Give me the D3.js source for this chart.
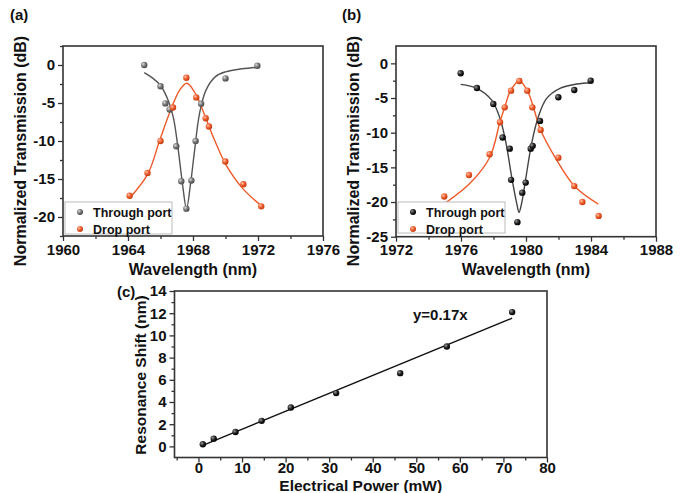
<!DOCTYPE html>
<meta charset="utf-8">
<html lang="en-us">
<head>
  <script src="https://cdn.jsdelivr.net/npm/d3@7"></script>
  <style>
    body { margin: 0; background: #fff; }
    svg text { font-family: "Liberation Sans", Arial, sans-serif; font-weight: bold; fill: #111; }
  </style>
</head>
<body>
<svg id="chart" width="689" height="493"></svg>
<script>
  // (a) measured points [wavelength nm, dB]
  const throughA = [[1965.0,0],[1966.0,-2.8],[1966.3,-5.05],[1966.56,-5.85],[1966.97,-10.7],[1967.28,-15.3],
    [1967.59,-18.9],[1967.9,-15.2],[1968.16,-10.0],[1968.5,-5.1],[1970.0,-1.76],[1971.96,-0.1]];
  const dropA = [[1964.1,-17.2],[1965.2,-14.2],[1966.0,-10.0],[1966.77,-5.6],[1967.59,-1.67],[1968.2,-4.26],
    [1968.78,-7.0],[1968.98,-8.1],[1969.99,-12.7],[1971.1,-15.7],[1972.2,-18.6]];
  // (a) fit curves
  const throughFitA = [[1965,-1.0],[1965.5,-1.7],[1966,-2.7],[1966.5,-4.8],[1966.8,-7],[1967.1,-11.3],
    [1967.35,-15.6],[1967.6,-18.9],[1967.85,-15.6],[1968.1,-11.2],[1968.4,-6.4],[1968.8,-3.3],
    [1969.4,-1.5],[1970,-0.9],[1971,-0.5],[1972,-0.3]];
  const dropFitA = [[1964.15,-17.4],[1965.23,-14.3],[1965.95,-9.9],[1966.67,-5.7],[1967.18,-3.3],[1967.63,-2.4],
    [1968.2,-3.96],[1968.72,-6.6],[1969.33,-9.9],[1970.05,-13.2],[1971.08,-16.3],[1972.25,-18.6]];

  // (b) measured points
  const throughB = [[1975.98,-1.44],[1976.98,-3.56],[1977.99,-5.87],[1978.56,-10.7],[1979.0,-12.3],[1979.08,-16.8],
    [1979.47,-22.9],[1979.77,-18.65],[1979.98,-17.2],[1980.29,-12.3],[1980.41,-11.9],[1980.86,-8.3],
    [1981.99,-4.9],[1982.97,-3.85],[1983.98,-2.5]];
  const dropB = [[1974.97,-19.2],[1976.49,-16.1],[1977.76,-13.1],[1978.4,-8.5],[1978.69,-6.35],[1979.08,-3.94],
    [1979.59,-2.55],[1980.08,-3.94],[1980.39,-6.35],[1980.9,-9.6],[1981.99,-13.6],[1982.97,-17.7],
    [1983.47,-20.0],[1984.47,-22.0]];
  const throughFitB = [[1975.98,-3.03],[1976.97,-3.6],[1977.89,-5.3],[1978.4,-7.94],[1978.77,-11.5],[1979.12,-16.4],
    [1979.43,-20.2],[1979.57,-21.5],[1979.73,-20.2],[1980.0,-16.4],[1980.35,-11.5],[1980.76,-7.7],
    [1981.27,-5.05],[1982.09,-3.6],[1983.12,-2.98],[1984.04,-2.79]];
  const dropFitB = [[1974.7,-20.7],[1976.55,-17.3],[1977.78,-13.5],[1978.4,-8.4],[1978.7,-6.25],[1979.05,-3.94],
    [1979.59,-2.55],[1980.08,-3.94],[1980.45,-6.25],[1980.86,-9.4],[1981.89,-13.95],[1983.02,-17.8],[1984.45,-20.3]];

  // (c) resonance shift vs power
  const powerMW = [1, 3.5, 8.5, 14.5, 21.2, 31.6, 46.3, 57, 72];
  const shiftNm = [0.2, 0.7, 1.3, 2.3, 3.5, 4.8, 6.6, 9.0, 12.1];
  const fitLineC = [[1, 0.1], [72, 11.55]];

  const legendLabels = ['Through port', 'Drop port'];
  const red = '#ef5a2a';

  const svg = d3.select('#chart');
  const defs = svg.append('defs');
  function ball(id, hi, mid, lo) {
    const g = defs.append('radialGradient').attr('id', id).attr('cx', '35%').attr('cy', '35%').attr('r', '65%');
    g.append('stop').attr('offset', '0%').attr('stop-color', hi);
    g.append('stop').attr('offset', '55%').attr('stop-color', mid);
    g.append('stop').attr('offset', '100%').attr('stop-color', lo);
  }
  ball('gGray', '#d8d8d8', '#777', '#4a4a4a');
  ball('gBlack', '#9a9a9a', '#222', '#000');
  ball('gRed', '#ffc2a8', red, '#c33e12');

  function panel(o) {
    const x = d3.scaleLinear().domain(o.xDom).range([o.left, o.right]);
    const y = d3.scaleLinear().domain(o.yDom).range([o.bottom, o.top]);
    const g = svg.append('g');

    const fmt = d => String(d);
    g.append('g').attr('transform', `translate(0,${o.bottom})`)
      .call(d3.axisBottom(x).tickValues(o.xTicks).tickSize(5).tickSizeOuter(0)
        .tickPadding(o.xPad != null ? o.xPad : 3).tickFormat(fmt));
    g.append('g').attr('transform', `translate(0,${o.bottom})`)
      .call(d3.axisBottom(x).tickValues(o.xMinor).tickSize(3).tickFormat(''));
    const ay = g.append('g').attr('transform', `translate(${o.left},0)`)
      .call(d3.axisLeft(y).tickValues(o.yTicks).tickSize(5).tickSizeOuter(0).tickFormat(fmt));
    g.append('g').attr('transform', `translate(${o.left},0)`)
      .call(d3.axisLeft(y).tickValues(o.yMinor).tickSize(3).tickFormat(''));
    g.selectAll('.domain').remove();
    g.selectAll('.tick line').attr('stroke', '#333').attr('stroke-width', 1.3);
    g.selectAll('.tick text').attr('font-size', 15).attr('fill', '#111');
    ay.selectAll('.tick text').attr('x', -8);

    g.append('rect').attr('x', o.left).attr('y', o.top)
      .attr('width', o.right - o.left).attr('height', o.bottom - o.top)
      .attr('fill', 'none').attr('stroke', '#333').attr('stroke-width', 1.6);

    const line = d3.line().x(d => x(d[0])).y(d => y(d[1])).curve(d3.curveCatmullRom.alpha(0.5));
    (o.fits || []).forEach(f => {
      g.append('path').datum(f.data).attr('d', f.straight ? d3.line().x(d => x(d[0])).y(d => y(d[1])) : line)
        .attr('fill', 'none').attr('stroke', f.color).attr('stroke-width', 1.4);
    });
    (o.series || []).forEach(s => {
      g.append('g').selectAll('circle').data(s.data).enter()
        .append('circle').attr('cx', d => x(d[0])).attr('cy', d => y(d[1]))
        .attr('r', 3.2).attr('fill', `url(#${s.grad})`);
    });

    g.append('text').attr('x', (o.left + o.right) / 2).attr('y', o.xTitleY)
      .attr('text-anchor', 'middle').attr('font-size', o.titleSize || 16).text(o.xTitle);
    g.append('text').attr('transform', `translate(${o.yTitleX},${o.yTitleCY}) rotate(-90)`)
      .attr('text-anchor', 'middle').attr('font-size', o.titleSize || 16).text(o.yTitle);
    g.append('text').attr('x', o.tag[0]).attr('y', o.tag[1]).attr('font-size', 15).text(o.tag[2]);

    if (o.legend) {
      const L = o.legend;
      const lg = g.append('g');
      lg.append('rect').attr('x', L.x).attr('y', L.y).attr('width', L.w).attr('height', L.h)
        .attr('fill', '#fff').attr('stroke', '#bbb').attr('stroke-width', 1);
      legendLabels.forEach((lab, i) => {
        lg.append('circle').attr('cx', L.x + 15).attr('cy', L.y + 10 + i * 17).attr('r', 3)
          .attr('fill', `url(#${o.series[i].grad})`);
        lg.append('text').attr('x', L.x + 28).attr('y', L.y + 14.5 + i * 17)
          .attr('font-size', 12.5).text(lab);
      });
    }
    return {x, y, g};
  }

  panel({
    left: 63, right: 323, top: 46, bottom: 236,
    xDom: [1960, 1976], yDom: [-22.5, 2.5],
    xTicks: [1960, 1964, 1968, 1972, 1976], xMinor: [1962, 1966, 1970, 1974],
    yTicks: [0, -5, -10, -15, -20], yMinor: [2.5, -2.5, -7.5, -12.5, -17.5, -22.5],
    fits: [{data: throughFitA, color: '#555'}, {data: dropFitA, color: red}],
    series: [{data: throughA, grad: 'gGray'}, {data: dropA, grad: 'gRed'}],
    xTitle: 'Wavelength (nm)', xTitleY: 275,
    yTitle: 'Normalized Transmission (dB)', yTitleX: 26, yTitleCY: 151,
    tag: [10, 20, '(a)'],
    legend: {x: 65, y: 202, w: 107, h: 32}
  });

  panel({
    left: 396, right: 656, top: 46, bottom: 236.7,
    xDom: [1972, 1988], yDom: [-25, 2.5],
    xTicks: [1972, 1976, 1980, 1984, 1988], xMinor: [1974, 1978, 1982, 1986],
    yTicks: [0, -5, -10, -15, -20, -25], yMinor: [-2.5, -7.5, -12.5, -17.5, -22.5],
    fits: [{data: throughFitB, color: '#444'}, {data: dropFitB, color: red}],
    series: [{data: throughB, grad: 'gBlack'}, {data: dropB, grad: 'gRed'}],
    xTitle: 'Wavelength (nm)', xTitleY: 275,
    yTitle: 'Normalized Transmission (dB)', yTitleX: 359, yTitleCY: 151,
    tag: [342, 20, '(b)'],
    legend: {x: 398, y: 202, w: 107, h: 31}
  });

  panel({
    left: 174.5, right: 547, top: 291, bottom: 457.5,
    xDom: [-5.5, 80], yDom: [-1, 14],
    xTicks: d3.range(0, 81, 10), xMinor: d3.range(-5, 80, 10), xPad: 0,
    yTicks: d3.range(0, 15, 2), yMinor: d3.range(1, 14, 2),
    fits: [{data: fitLineC, color: '#111', straight: true}],
    series: [{data: powerMW.map((p, i) => [p, shiftNm[i]]), grad: 'gBlack'}],
    xTitle: 'Electrical Power (mW)', xTitleY: 491, titleSize: 15.5,
    yTitle: 'Resonance Shift (nm)', yTitleX: 146, yTitleCY: 375,
    tag: [117, 297, '(c)']
  });

  svg.append('text').attr('x', 413).attr('y', 320).attr('font-size', 15).text('y=0.17x');
</script>
</body>
</html>
